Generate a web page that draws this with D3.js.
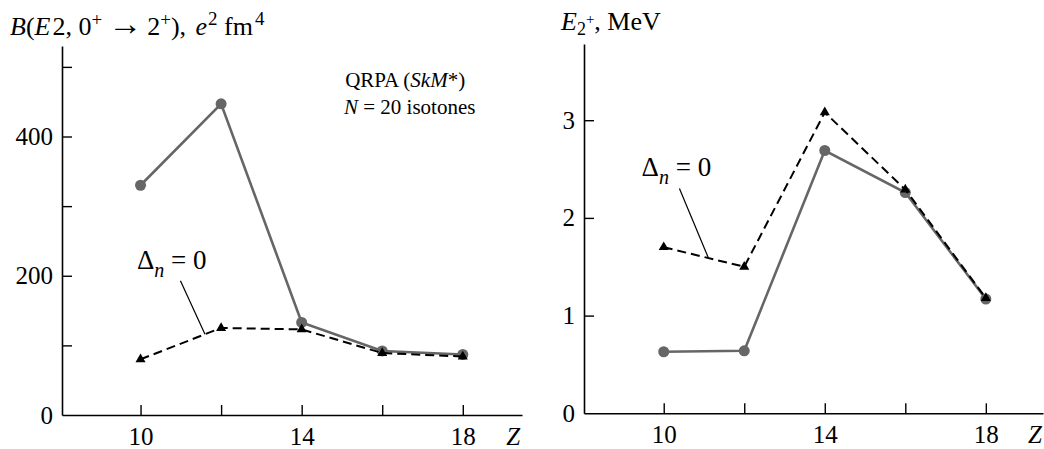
<!DOCTYPE html>
<html><head><meta charset="utf-8">
<script src="https://cdn.jsdelivr.net/npm/d3@7"></script>
<style>
html,body{margin:0;padding:0;background:#fff;}
svg text{font-family:"Liberation Serif","Times New Roman",serif;fill:#000;}
</style></head>
<body>
<svg id="chart" width="1044" height="449"></svg>
<script>
// ---- data ----
const Z = [10, 12, 14, 16, 18];
const bE2_qrpa = [330, 447, 133, 92, 87];
const bE2_delta0 = [80, 125, 123, 89, 84];
const e2_qrpa = [0.63, 0.64, 2.69, 2.26, 1.17];
const e2_delta0 = [1.70, 1.50, 3.08, 2.29, 1.18];
const xTicks = [10, 12, 14, 16, 18];
const xTickLabels = [10, 14, 18];
const yTicksL = [0, 100, 200, 300, 400, 500];
const yTickLabelsL = [0, 200, 400];
const yTicksR = [0, 1, 2, 3];

const GRAY = "#666666";
const SERIF = '"Liberation Serif","Times New Roman",serif';
const svg = d3.select("#chart");
const FS = 25;

function panel(opts){
  const {x, y, qrpa, delta0, yTicks, yLabels} = opts;
  const g = svg.append("g");
  const ya = d3.axisLeft(y).tickValues(yTicks).tickSize(-10).tickSizeOuter(0).tickPadding(9)
     .tickFormat(d => yLabels.includes(d) ? d : "");
  const gy = g.append("g").attr("transform", `translate(${x.range()[0]},0)`).call(ya);
  const xa = d3.axisBottom(x).tickValues(xTicks).tickSize(-10).tickSizeOuter(0).tickPadding(12)
     .tickFormat(d => xTickLabels.includes(d) ? d : "");
  const gx = g.append("g").attr("transform", `translate(0,${y.range()[0]})`).call(xa);
  [gx, gy].forEach(a => {
    a.attr("font-family", SERIF).attr("font-size", FS);
    a.selectAll("path.domain").attr("stroke", "#000").attr("stroke-width", 1.6);
    a.selectAll(".tick line").attr("stroke", "#000").attr("stroke-width", 1.4);
    a.selectAll(".tick text").style("font-family", SERIF).style("font-size", FS + "px").attr("fill", "#000");
  });
  gy.selectAll(".tick").filter(d => d === 0).select("line").remove();
  g.append("text").attr("x", x(opts.zLabelX)).attr("y", y.range()[0] + 30)
    .attr("text-anchor", "middle").style("font-size", "25px").style("font-style", "italic").text("Z");

  const line = d3.line().x((d, i) => x(Z[i])).y(d => y(d));
  g.append("path").datum(qrpa).attr("d", line).attr("fill", "none")
    .attr("stroke", GRAY).attr("stroke-width", 2.6);
  g.selectAll("circle.q").data(qrpa).join("circle").attr("class", "q")
    .attr("cx", (d, i) => x(Z[i])).attr("cy", d => y(d)).attr("r", 5.5).attr("fill", GRAY);
  g.append("path").datum(delta0).attr("d", line).attr("fill", "none")
    .attr("stroke", "#000").attr("stroke-width", 2).attr("stroke-dasharray", "9,5");
  g.selectAll("path.t").data(delta0).join("path").attr("class", "t")
    .attr("transform", (d, i) => `translate(${x(Z[i])},${y(d)})`)
    .attr("d", d3.symbol(d3.symbolTriangle, 44)()).attr("fill", "#000");

  const a = opts.ann;
  const t = g.append("text").attr("x", x(a.tx)).attr("y", y(a.ty)).style("font-size", "27px");
  t.append("tspan").text("Δ");
  t.append("tspan").attr("dy", 8).style("font-style", "italic").style("font-size", "20px").text("n");
  t.append("tspan").attr("dy", -8).text(" = 0");
  g.append("line").attr("x1", x(a.l[0])).attr("y1", y(a.l[1])).attr("x2", x(a.l[2])).attr("y2", y(a.l[3]))
    .attr("stroke", "#000").attr("stroke-width", 1.2);
  return g;
}

const xL = d3.scaleLinear().domain([8.05, 19.47]).range([62, 522]);
const yL = d3.scaleLinear().domain([0, 530]).range([415, 46]);
const gL = panel({x: xL, y: yL, qrpa: bE2_qrpa, delta0: bE2_delta0, yTicks: yTicksL, yLabels: yTickLabelsL,
  zLabelX: 19.25, ann: {tx: 9.91, ty: 210, l: [10.99, 193, 11.6, 116]}});

const xR = d3.scaleLinear().domain([8.02, 19.42]).range([584, 1043]);
const yR = d3.scaleLinear().domain([0, 3.78]).range([413.3, 44]);
const gR = panel({x: xR, y: yR, qrpa: e2_qrpa, delta0: e2_delta0, yTicks: yTicksR, yLabels: yTicksR,
  zLabelX: 19.22, ann: {tx: 9.45, ty: 2.43, l: [10.39, 2.30, 11.11, 1.59]}});

// left title
const TS = 26, SS = 19;
const tl = svg.append("text").attr("x", 10).attr("y", 35).style("font-size", TS + "px");
tl.append("tspan").style("font-style", "italic").text("B");
tl.append("tspan").text("(");
tl.append("tspan").style("font-style", "italic").text("E");
tl.append("tspan").attr("dx", 2).text("2, 0");
tl.append("tspan").attr("dy", -9).style("font-size", SS + "px").text("+");
tl.append("tspan").attr("dy", 9).attr("dx", 6).style("font-size", "34px").text("→");
tl.append("tspan").attr("dx", 5).text("2");
tl.append("tspan").attr("dy", -9).style("font-size", SS + "px").text("+");
tl.append("tspan").attr("dy", 9).text("), ");
tl.append("tspan").attr("dx", 3).style("font-style", "italic").text("e");
tl.append("tspan").attr("dy", -10).attr("dx", 1).style("font-size", SS + "px").text("2");
tl.append("tspan").attr("dy", 10).text(" fm");
tl.append("tspan").attr("dy", -10).attr("dx", 2).style("font-size", SS + "px").text("4");

// right title
const tr = svg.append("text").attr("x", 561).attr("y", 30).style("font-size", TS + "px");
tr.append("tspan").style("font-style", "italic").text("E");
tr.append("tspan").attr("dy", 5).style("font-size", "18px").text("2");
tr.append("tspan").attr("dy", -11).style("font-size", "15px").text("+");
tr.append("tspan").attr("dy", 6).text(", MeV");

// QRPA label
const q = gL.append("text").attr("x", xL(15.08)).attr("y", yL(471)).style("font-size", "21px");
q.append("tspan").text("QRPA (");
q.append("tspan").style("font-style", "italic").text("SkM");
q.append("tspan").text("*)");
const q2 = gL.append("text").attr("x", xL(15.05)).attr("y", yL(432)).style("font-size", "21px");
q2.append("tspan").style("font-style", "italic").text("N");
q2.append("tspan").text(" = 20 isotones");
</script>
</body></html>
